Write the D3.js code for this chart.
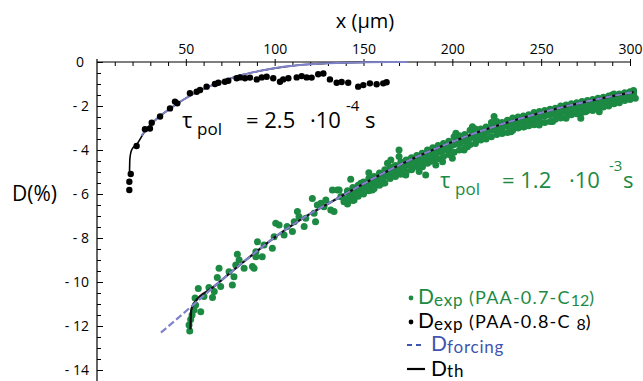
<!DOCTYPE html>
<html><head><meta charset="utf-8">
<script src="https://cdn.jsdelivr.net/npm/d3@7"></script>
<style>body{margin:0;background:#fff}svg{display:block;font-family:"Open Sans",sans-serif}</style>
</head><body><svg id="c" width="643" height="381"></svg>
<script>
// ---------- data ----------
const xTicks = [50, 100, 150, 200, 250, 300];
const yTicks = [0, -2, -4, -6, -8, -10, -12, -14];

// PAA-0.8-C8 (black points)
const blackX = [18.2,18.2,19.0,22.3,27.0,29.8,30.8,35.5,41.1,43.9,45.2,52.3,56.1,58.0,61.7,66.4,68.3,72.0,73.9,78.6,80.5,83.3,86.1,89.9,92.7,95.5,99.2,103.0,104.8,107.7,112.4,115.2,118.0,120.8,124.5,127.4,131.1,134.9,137.7,141.4,147.0,149.9,153.6,157.4,161.1,163.0];
const blackD = [-5.82,-5.44,-5.09,-3.82,-3.06,-3.02,-2.76,-2.48,-2.11,-1.80,-1.88,-1.42,-1.35,-1.27,-1.12,-1.00,-0.94,-0.90,-0.85,-0.74,-0.70,-0.74,-0.71,-0.79,-0.70,-0.67,-0.74,-0.90,-0.79,-0.74,-0.70,-0.64,-0.70,-0.71,-0.56,-0.52,-0.79,-0.94,-0.91,-0.94,-1.12,-1.05,-0.97,-1.01,-0.97,-0.92];

// PAA-0.7-C12 (green points)
const greenX = [52.2,51.8,52.7,53.5,54.6,58.4,55.5,55.2,57.0,60.2,63.0,65.0,66.0,67.7,68.7,69.6,74.3,76.2,77.1,78.1,80.0,79.0,82.8,87.5,89.4,
  88.4,89.4,90.3,93.0,94.0,98.7,99.7,100.6,102.5,105.3,107.0,110.0,111.0,112.8,113.7,116.6,117.5,121.2,122.2,123.0,124.0,126.0,127.8,128.8,131.6,133.4,132.5,136.3,137.2,139.0,
  135.3,138.0,141.0,142.8,144.7,146.6,148.5,153.0,155.0,157.0,160.6,163.5,165.4,167.2,170.0,170.0,172.9,173.8,175.7,177.5,179.4,181.3,183.2,185.0,187.0,189.8,190.7,
  188.8,194.5,198.2,200.0,202.0,203.8,206.6,208.5,211.3,213.2,216.0,218.0,219.8,222.6,223.5,224.5,227.3,230.0,233.0,235.7,237.6,240.4,242.3,245.0,247.0,
  248.9,252.6,256.4,260.0,264.0,267.6,272.3,275.0,278.9,282.7,286.4,290.0,293.0,295.8,299.5,303.0,302.0,
  141,141,141,144,144,144,147,147,147,150,150,150,153,153,153,156,156,156,159,159,159,162,162,162,165,165,165,168,168,168,171,171,171,174,174,174,177,177,177,180,180,180,
  183,183,183,186,186,186,189,189,189,192,192,192,195,195,195,198,198,198,201,201,201,204,204,204,207,207,207,210,210,210,213,213,213,216,216,216,219,219,219,
  222,222,222,225,225,225,228,228,228,231,231,231,234,234,234,237,237,237,240,240,240,243,243,243,246,246,246,249,249,249,252,252,252,255,255,255,258,258,258,
  261,261,261,264,264,264,267,267,267,270,270,270,273,273,273,276,276,276,279,279,279,282,282,282,285,285,285,288,288,288,291,291,291,294,294,294,297,297,297,300,300,300,302,302,302,
  142.5,145.5,148.5,151.5,154.5,157.5,160.5,163.5,166.5,169.5,172.5,175.5,178.5,181.5,184.5,187.5,190.5,193.5,196.5,199.5,202.5,205.5,208.5,211.5,214.5,217.5,220.5,
  223.5,226.5,229.5,232.5,235.5,238.5,241.5,244.5,247.5,250.5,253.5,256.5,259.5,262.5,265.5,268.5,271.5,274.5,277.5,280.5,283.5,286.5,289.5,292.5,295.5,298.5,300.5];
const greenD = [-12.23,-11.95,-11.70,-11.50,-11.27,-11.35,-11.05,-10.73,-10.30,-10.66,-10.25,-10.70,-10.43,-9.80,-9.38,-10.20,-9.53,-10.14,-9.76,-9.23,-9.00,-8.74,-9.38,-9.30,-8.62,
  -9.38,-8.85,-8.17,-8.85,-8.32,-8.47,-7.94,-7.33,-7.41,-7.86,-7.48,-7.70,-7.26,-6.80,-7.03,-7.48,-7.10,-6.20,-6.88,-7.26,-6.50,-6.42,-6.58,-6.27,-6.73,-6.80,-5.82,-5.82,-6.12,-6.35,
  -5.82,-6.12,-5.90,-5.33,-6.27,-5.90,-5.51,-5.03,-5.82,-5.44,-5.51,-4.60,-4.45,-4.76,-4.00,-4.30,-4.68,-5.14,-4.45,-4.83,-4.60,-4.98,-4.76,-5.14,-4.53,-4.38,-4.68,
  -4.00,-4.53,-4.00,-4.38,-3.24,-3.70,-4.00,-3.85,-2.94,-3.47,-3.09,-3.39,-3.01,-2.79,-2.48,-3.09,-2.94,-2.79,-3.17,-2.86,-2.64,-2.94,-2.64,-2.79,-2.41,
  -2.86,-2.41,-2.71,-2.33,-2.56,-2.10,-2.56,-2.26,-1.95,-2.26,-1.95,-1.50,-1.80,-1.58,-1.42,-1.65,-1.35,
  -5.85,-6.2,-6.45,-5.7,-6.0,-6.3,-5.6,-5.95,-6.1,-5.45,-5.7,-6.0,-5.3,-5.6,-5.85,-5.2,-5.5,-5.75,-5.05,-5.35,-5.6,-4.9,-5.2,-5.5,-4.8,-5.05,-5.3,-4.7,-4.95,-5.2,-4.55,-4.85,-5.1,-4.45,-4.7,-5.0,-4.35,-4.6,-4.9,-4.25,-4.5,-4.75,
  -4.15,-4.45,-4.7,-4.0,-4.3,-4.6,-3.9,-4.2,-4.5,-3.8,-4.1,-4.4,-3.7,-4.0,-4.3,-3.6,-3.9,-4.2,-3.4,-3.75,-4.1,-3.35,-3.7,-4.0,-3.3,-3.6,-3.9,-3.1,-3.45,-3.75,-3.05,-3.4,-3.7,-3.05,-3.3,-3.55,-2.95,-3.2,-3.5,
  -2.75,-3.1,-3.4,-2.7,-3.05,-3.3,-2.75,-3.0,-3.25,-2.65,-2.9,-3.2,-2.55,-2.85,-3.1,-2.5,-2.75,-3.0,-2.45,-2.7,-2.95,-2.4,-2.65,-2.9,-2.3,-2.6,-2.85,-2.25,-2.55,-2.8,-2.2,-2.45,-2.75,-2.15,-2.4,-2.7,-2.1,-2.35,-2.6,
  -2.0,-2.3,-2.55,-1.95,-2.25,-2.5,-1.9,-2.15,-2.4,-1.85,-2.1,-2.35,-1.8,-2.05,-2.3,-1.75,-2.0,-2.2,-1.7,-1.95,-2.2,-1.65,-1.9,-2.1,-1.6,-1.85,-2.05,-1.55,-1.8,-2.0,-1.45,-1.7,-1.9,-1.45,-1.65,-1.85,-1.4,-1.6,-1.75,-1.35,-1.5,-1.7,-1.3,-1.45,-1.6,
  -6.1,-5.95,-5.75,-5.7,-5.5,-5.45,-5.3,-5.15,-5.0,-4.95,-4.8,-4.65,-4.6,-4.45,-4.35,-4.3,-4.15,-4.05,-3.95,-3.8,-3.6,-3.6,-3.5,-3.3,-3.35,-3.25,-3.1,
  -2.9,-2.95,-2.9,-2.8,-2.7,-2.65,-2.6,-2.55,-2.45,-2.45,-2.35,-2.3,-2.25,-2.15,-2.1,-2.05,-2.0,-1.95,-1.9,-1.85,-1.75,-1.75,-1.65,-1.6,-1.55,-1.5,-1.45];

// fitted curves
const topThX = [18.3,18.5,19.5,22.3,27,32,38,45,52,60,70,80,92,105,120,135,150,165,175];
const topThD = [-5.0,-4.4,-4.0,-3.75,-3.15,-2.7,-2.3,-1.9,-1.55,-1.22,-0.9,-0.62,-0.4,-0.22,-0.1,-0.04,-0.015,-0.003,0];
const topForcingX = [25,27,32,38,45,52,60,70,80,92,105,120,135,150,165,175];
const topForcingD = [-3.35,-3.15,-2.7,-2.3,-1.9,-1.55,-1.22,-0.9,-0.62,-0.4,-0.22,-0.1,-0.04,-0.015,-0.003,0];
const greenThX = [52.6,53.0,54,66,80,90,100,112,122,132,145,160,177,196,215,234,253,271,290,302];
const greenThD = [-12.15,-11.3,-11.05,-10.2,-9.25,-8.6,-7.97,-7.3,-6.8,-6.35,-5.76,-5.1,-4.42,-3.76,-3.17,-2.67,-2.24,-1.88,-1.55,-1.37];
const greenForcingX = [36,54,66,80,90,100,112,122,132,145,160,177,196,215,234,253,271,290,302];
const greenForcingD = [-12.3,-11.05,-10.2,-9.25,-8.6,-7.97,-7.3,-6.8,-6.35,-5.76,-5.1,-4.42,-3.76,-3.17,-2.67,-2.24,-1.88,-1.55,-1.37];

// ---------- drawing ----------
const GREEN = "#1c8a42", BLUE_LINE = "#7f83c9", BLUE_TXT = "#3f55b0";
const svg = d3.select("#c");
const x = d3.scaleLinear().domain([0, 300]).range([97, 630]);
const y = d3.scaleLinear().domain([0, -14]).range([62, 370]);

// top axis
const gx = svg.append("g").attr("transform", `translate(0,${y(0)})`);
gx.call(d3.axisBottom(x).tickValues(d3.range(10, 301, 10)).tickSize(4).tickFormat(""));
gx.call(g => g.select(".domain").remove());
const gxl = svg.append("g").attr("transform", `translate(0,${y(0)})`);
gxl.call(d3.axisTop(x).tickValues(xTicks).tickSize(3).tickPadding(5).tickFormat(d3.format("d")));
gxl.select(".domain").remove();
gxl.selectAll("text").attr("font-size", 14).attr("font-family", "Open Sans");
svg.append("line").attr("x1", x(0)).attr("x2", x(300)).attr("y1", y(0)).attr("y2", y(0)).attr("stroke", "#000").attr("stroke-width", 1.2);
svg.selectAll(".tick line").attr("stroke-width", 1);

// left axis
const gy = svg.append("g").attr("transform", `translate(${x(0)},0)`);
gy.call(d3.axisRight(y).tickValues(d3.range(0, -14.6, -0.5)).tickSize(4).tickFormat(""));
gy.select(".domain").remove();
const gyl = svg.append("g").attr("transform", `translate(${x(0)},0)`);
gyl.call(d3.axisLeft(y).tickValues(yTicks).tickSizeInner(-6).tickSizeOuter(0).tickPadding(8)
  .tickFormat(d => d === 0 ? "0" : "- " + Math.abs(d)));
gyl.select(".domain").remove();
gyl.selectAll("text").attr("font-size", 14).attr("font-family", "Open Sans")
  .attr("dx", d => d === 0 ? -5 : 0);
svg.append("line").attr("x1", x(0)).attr("x2", x(0)).attr("y1", y(0) - 3).attr("y2", 381).attr("stroke", "#000").attr("stroke-width", 1.2);
gy.selectAll("line").attr("stroke-width", 1);
gyl.selectAll("line").attr("stroke-width", 1);

// titles
svg.append("text").attr("x", 365).attr("y", 28).attr("text-anchor", "middle").attr("font-size", 20).text("x (µm)");
svg.append("text").attr("x", 12).attr("y", 201).attr("font-size", 21).text("D(%)");

// green points
svg.append("g").selectAll("circle").data(d3.range(greenX.length)).join("circle")
  .attr("cx", i => x(greenX[i])).attr("cy", i => y(greenD[i])).attr("r", 3.5).attr("fill", GREEN);

// curves
const line = d3.line().curve(d3.curveMonotoneX);
const pts = (xs, ds) => xs.map((v, i) => [x(v), y(ds[i])]);
svg.append("path").attr("d", line(pts(topThX, topThD))).attr("fill", "none").attr("stroke", "#000").attr("stroke-width", 1.6);
svg.append("path").attr("d", line(pts(topForcingX, topForcingD))).attr("fill", "none").attr("stroke", BLUE_LINE).attr("stroke-width", 2);
svg.append("path").attr("d", line(pts(greenThX, greenThD))).attr("fill", "none").attr("stroke", "#111").attr("stroke-width", 2.2);
svg.append("path").attr("d", line(pts(greenForcingX, greenForcingD))).attr("fill", "none").attr("stroke", BLUE_LINE).attr("stroke-width", 2.2).attr("stroke-dasharray", "7,3");

// black points
svg.append("g").selectAll("circle").data(d3.range(blackX.length)).join("circle")
  .attr("cx", i => x(blackX[i])).attr("cy", i => y(blackD[i])).attr("r", 3.2).attr("fill", "#000");

// annotations
function tau(base, color, value, exp, pos) {
  const t = svg.append("text").attr("fill", color).attr("font-size", 22);
  t.append("tspan").attr("x", pos[0]).attr("y", base).text("τ");
  t.append("tspan").attr("x", pos[1]).attr("y", base + 7).attr("font-size", 17).text("pol");
  t.append("tspan").attr("x", pos[2]).attr("y", base).text("= " + value);
  t.append("tspan").attr("x", pos[3]).attr("y", base).text("·10");
  t.append("tspan").attr("x", pos[4]).attr("y", base - 17).attr("font-size", 15).text(exp);
  t.append("tspan").attr("x", pos[5]).attr("y", base).text("s");
}
tau(128, "#000", "2.5", "-4", [182, 197, 246, 310, 346, 365]);
tau(188, GREEN, "1.2", "-3", [440, 455, 502, 569, 609, 623]);

// legend
const lg = svg.append("g").attr("font-family", "Lato");
function legendText(x0, base, color, main, sub, rest, sub2, rest2, subDy = 2) {
  const t = lg.append("text").attr("x", x0).attr("y", base).attr("fill", color).attr("font-size", 21);
  t.append("tspan").text(main);
  t.append("tspan").attr("font-size", 17).attr("dy", subDy).attr("letter-spacing", 0.8).text(sub);
  if (rest) {
    t.append("tspan").attr("font-size", 18).attr("dy", -subDy).attr("letter-spacing", 1.2).text(rest);
    t.append("tspan").attr("font-size", 16).attr("dy", subDy).text(sub2);
    t.append("tspan").attr("font-size", 18).attr("dy", -subDy).text(rest2);
  }
}
lg.append("circle").attr("cx", 411).attr("cy", 298).attr("r", 2.4).attr("fill", GREEN);
legendText(418, 304, GREEN, "D", "exp", " (PAA-0.7-C", "12", ")");
lg.append("circle").attr("cx", 411).attr("cy", 322).attr("r", 2.4).attr("fill", "#000");
legendText(418, 328, "#000", "D", "exp", " (PAA-0.8-C ", "8", ")", 1.5);
lg.append("line").attr("x1", 407).attr("x2", 424).attr("y1", 345).attr("y2", 345).attr("stroke", BLUE_TXT).attr("stroke-width", 2).attr("stroke-dasharray", "5,4");
legendText(431, 351, BLUE_TXT, "D", "forcing", null, null, null, 1.5);
lg.append("line").attr("x1", 407).attr("x2", 425).attr("y1", 369).attr("y2", 369).attr("stroke", "#000").attr("stroke-width", 2.2);
legendText(431, 376, "#000", "D", "th", null, null, null, 1);
</script></body></html>
